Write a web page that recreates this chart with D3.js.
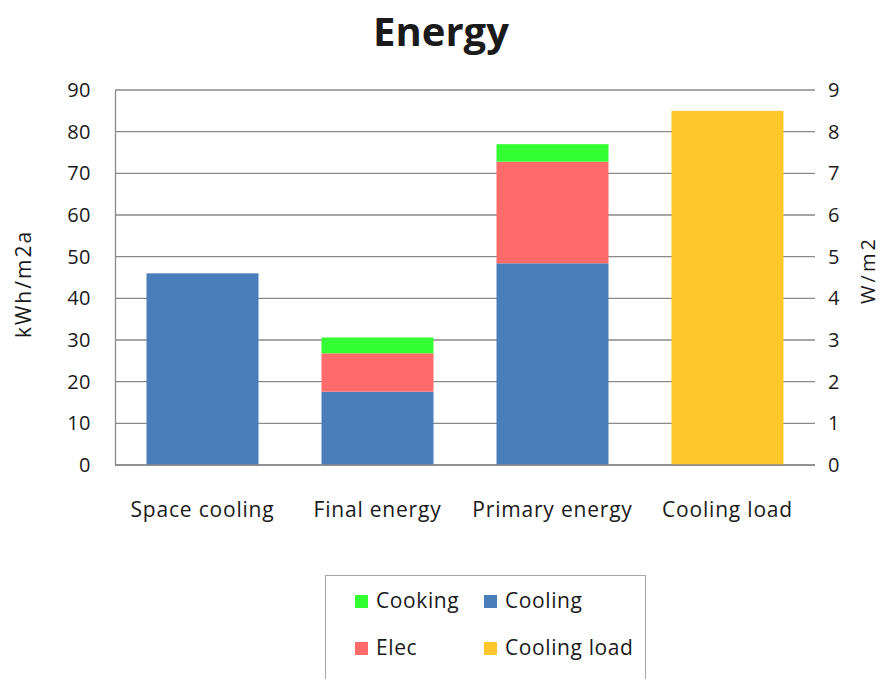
<!DOCTYPE html>
<html>
<head>
<meta charset="utf-8">
<script src="https://cdn.jsdelivr.net/npm/d3@7/dist/d3.min.js"></script>
<style>
  html, body { margin: 0; padding: 0; background: #fff; }
  svg { display: block; }
  text { font-family: "Open Sans", "Noto Sans", sans-serif; fill: #1a1a1a; }
</style>
</head>
<body>
<svg id="chart" width="882" height="679"></svg>
<script>
// Categories along the x axis
const categories = ["Space cooling", "Final energy", "Primary energy", "Cooling load"];

// Stacked series on the left axis (kWh/m2a)
const cooling = [46, 17.6, 48.4, 0];
const elec    = [0, 9.2, 24.4, 0];
const cooking = [0, 3.8, 4.2, 0];

// Series on the right axis (W/m2)
const coolingLoad = [0, 0, 0, 8.5];

const leftTicks  = [0, 10, 20, 30, 40, 50, 60, 70, 80, 90];
const rightTicks = [0, 1, 2, 3, 4, 5, 6, 7, 8, 9];

const colors = {
  Cooling: "#4a7ebb",
  Elec: "#ff6b6b",
  Cooking: "#33ff33",
  "Cooling load": "#ffc72c"
};

const svg = d3.select("#chart");
const margin = { left: 115, right: 67, top: 90, bottom: 214 };
const W = 882, H = 679;
const x0 = margin.left, x1 = W - margin.right;
const y0 = H - margin.bottom, y1 = margin.top;

const x = d3.scaleBand().domain(categories).range([x0, x1]).paddingInner(0.36).paddingOuter(0.18);
const yL = d3.scaleLinear().domain([0, 90]).range([y0, y1]);
const yR = d3.scaleLinear().domain([0, 9]).range([y0, y1]);

// Gridlines
svg.append("g")
  .selectAll("line")
  .data(leftTicks)
  .join("line")
  .attr("x1", x0).attr("x2", x1)
  .attr("y1", d => yL(d)).attr("y2", d => yL(d))
  .attr("stroke", "#8a8a8a").attr("stroke-width", 1.3);

// Stacked bars
const rows = categories.map((c, i) => ({ cat: c, Cooling: cooling[i], Elec: elec[i], Cooking: cooking[i] }));
const stack = d3.stack().keys(["Cooling", "Elec", "Cooking"]);
const layers = stack(rows);

svg.append("g")
  .selectAll("g")
  .data(layers)
  .join("g")
  .attr("fill", d => colors[d.key])
  .selectAll("rect")
  .data(d => d.filter(p => p[1] - p[0] > 0))
  .join("rect")
  .attr("x", d => x(d.data.cat))
  .attr("width", x.bandwidth())
  .attr("y", d => yL(d[1]))
  .attr("height", d => yL(d[0]) - yL(d[1]));

// Cooling load bars on the right axis
svg.append("g")
  .selectAll("rect")
  .data(categories.map((c, i) => ({ cat: c, v: coolingLoad[i] })).filter(d => d.v > 0))
  .join("rect")
  .attr("x", d => x(d.cat))
  .attr("width", x.bandwidth())
  .attr("y", d => yR(d.v))
  .attr("height", d => yR(0) - yR(d.v))
  .attr("fill", colors["Cooling load"]);

// Left axis
const axL = svg.append("g")
  .attr("transform", `translate(${x0},0)`)
  .call(d3.axisLeft(yL).tickValues(leftTicks).tickSize(0).tickPadding(24));
axL.select(".domain").attr("stroke", "#8a8a8a").attr("stroke-width", 1.3);
axL.selectAll("text").style("font-size", "20px").style("letter-spacing", "0.5px").attr("fill", "#1a1a1a");

// Right axis
const axR = svg.append("g")
  .attr("transform", `translate(${x1},0)`)
  .call(d3.axisRight(yR).tickValues(rightTicks).tickSize(0).tickPadding(13));
axR.select(".domain").remove();
axR.selectAll("text").style("font-size", "20px").attr("fill", "#1a1a1a");

// Bottom axis
const axB = svg.append("g")
  .attr("transform", `translate(0,${y0})`)
  .call(d3.axisBottom(x).tickSize(0).tickPadding(37));
axB.select(".domain").attr("stroke", "#8a8a8a").attr("stroke-width", 1.3).attr("d", `M${x0},0H${x1}`);
axB.selectAll("text").style("font-size", "21px").style("letter-spacing", "0.8px").attr("fill", "#1a1a1a");

// Title
svg.append("text")
  .attr("x", 441).attr("y", 46)
  .attr("text-anchor", "middle")
  .style("font-size", "40px").style("font-weight", "700")
  .attr("fill", "#000")
  .text("Energy");

// Axis titles
svg.append("text")
  .attr("transform", `translate(31,284) rotate(-90)`)
  .attr("text-anchor", "middle")
  .style("font-size", "21px").style("letter-spacing", "2px")
  .text("kWh/m2a");

svg.append("text")
  .attr("transform", `translate(875,270) rotate(-90)`)
  .attr("text-anchor", "middle")
  .style("font-size", "20px").style("letter-spacing", "3px")
  .text("W/m2");

// Legend
const legend = svg.append("g");
legend.append("rect")
  .attr("x", 325.5).attr("y", 575.5).attr("width", 320).attr("height", 120)
  .attr("fill", "#fff").attr("stroke", "#a6a6a6").attr("stroke-width", 1);

const legendItems = [
  { key: "Cooking", col: 0, row: 0 },
  { key: "Cooling", col: 1, row: 0 },
  { key: "Elec", col: 0, row: 1 },
  { key: "Cooling load", col: 1, row: 1 }
];
const li = legend.selectAll("g.item")
  .data(legendItems)
  .join("g")
  .attr("class", "item")
  .attr("transform", d => `translate(${355 + d.col * 129},${601 + d.row * 47})`);
li.append("rect")
  .attr("x", 0).attr("y", -6).attr("width", 13).attr("height", 13)
  .attr("fill", d => colors[d.key]);
li.append("text")
  .attr("x", 21).attr("y", 0).attr("dy", "0.35em")
  .style("font-size", "21px").style("letter-spacing", "0.6px")
  .text(d => d.key);
</script>
</body>
</html>
